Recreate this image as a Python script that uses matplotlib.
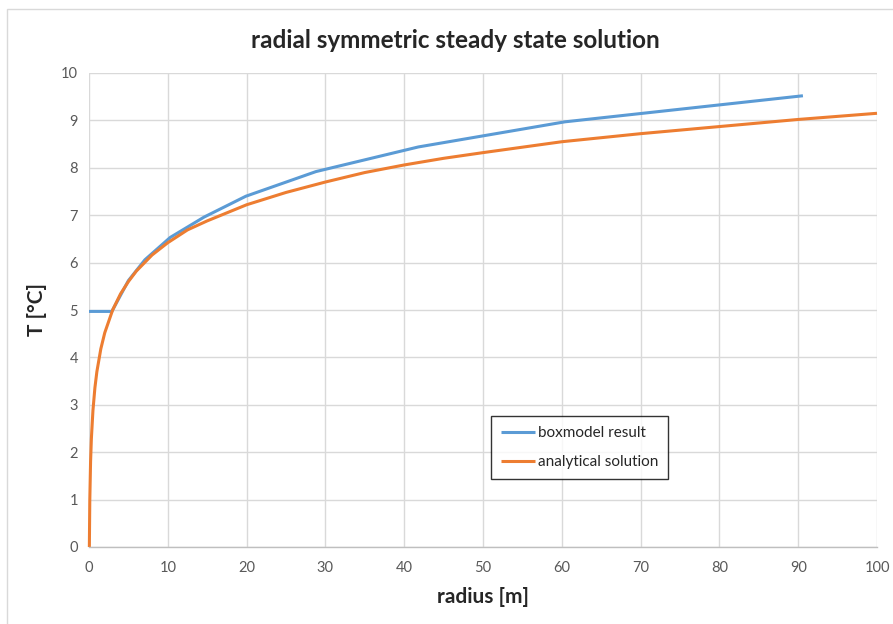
import matplotlib
matplotlib.use("Agg")
import matplotlib.pyplot as plt
from matplotlib.patches import Rectangle

# Box model result (cell centres) and analytical radial steady state profile
box_r = [0.0, 2.9, 5.0, 7.1, 10.3, 14.6, 19.9, 28.8, 41.8, 60.4, 90.6]
box_T = [4.97, 4.97, 5.62, 6.06, 6.53, 6.96, 7.40, 7.92, 8.44, 8.97, 9.52]

ana_r = [0.045, 0.1, 0.2, 0.3, 0.5, 0.75, 1.0, 1.5, 2.0, 3.0, 4.0, 5.0, 6.0,
         8.0, 10.0, 12.5, 15.0, 20.0, 25.0, 30.0, 35.0, 40.0, 45.0, 50.0,
         60.0, 70.0, 80.0, 90.0, 100.0]
ana_T = [0.0, 0.98, 1.80, 2.28, 2.88, 3.36, 3.70, 4.18, 4.52, 5.00, 5.34,
         5.60, 5.82, 6.16, 6.42, 6.69, 6.88, 7.22, 7.48, 7.70, 7.90, 8.06,
         8.20, 8.32, 8.55, 8.72, 8.87, 9.02, 9.15]

x_ticks = [0, 10, 20, 30, 40, 50, 60, 70, 80, 90, 100]
y_ticks = [0, 1, 2, 3, 4, 5, 6, 7, 8, 9, 10]

W, H = 893, 624
fig = plt.figure(figsize=(W / 100, H / 100), dpi=100)
fig.patch.set_facecolor("white")

# chart frame
fig.patches.append(Rectangle((7 / W, -0.1), 1.2, 1 - 9 / H + 0.1,
                             transform=fig.transFigure, fill=False,
                             edgecolor="#d9d9d9", linewidth=1.0))

ax = fig.add_axes([89 / W, 1 - 547 / H, (877 - 89) / W, (547 - 73) / H])
ax.set_xlim(0, 100)
ax.set_ylim(0, 10)
ax.set_xticks(x_ticks)
ax.set_yticks(y_ticks)
ax.grid(True, color="#d9d9d9", linewidth=1.0)
ax.set_axisbelow(True)
for s in ["top", "right", "left"]:
    ax.spines[s].set_visible(False)
ax.spines["bottom"].set_color("#bfbfbf")
ax.spines["bottom"].set_linewidth(1.0)
ax.tick_params(axis="x", length=0, labelsize=10.5, labelcolor="#595959", pad=10)
ax.tick_params(axis="y", length=0, labelsize=10.5, labelcolor="#595959", pad=8)
for lab in ax.get_xticklabels() + ax.get_yticklabels():
    lab.set_fontfamily("Lato")

ax.plot(box_r, box_T, color="#5b9bd5", linewidth=2.2, label="boxmodel result",
        solid_capstyle="butt", clip_on=False)
ax.plot(ana_r, ana_T, color="#ed7d31", linewidth=2.2, label="analytical solution",
        solid_capstyle="butt", clip_on=False)

fig.text(455 / W, 1 - 40 / H, "radial symmetric steady state solution",
         ha="center", va="center", fontsize=17.5, fontweight="bold",
         color="#262626", family="Lato")
ax.set_xlabel("radius [m]", fontsize=15, fontweight="bold", color="#262626",
              family="Lato", labelpad=9)
ax.set_ylabel("T [°C]", fontsize=15, fontweight="bold", color="#262626",
              family="Lato", labelpad=10)

leg = ax.legend(loc="upper left", bbox_to_anchor=((491 - 89) / (877 - 89),
                                                   (547 - 416) / (547 - 73)),
                frameon=True, fancybox=False, edgecolor="black",
                prop={"family": "Lato", "size": 11}, handlelength=2.2,
                handletextpad=0.2, labelspacing=1.0, borderpad=0.65,
                borderaxespad=0)
leg.get_frame().set_linewidth(1.0)
for t in leg.get_texts():
    t.set_color("#262626")

fig.savefig("out.png", dpi=100, facecolor="white")
